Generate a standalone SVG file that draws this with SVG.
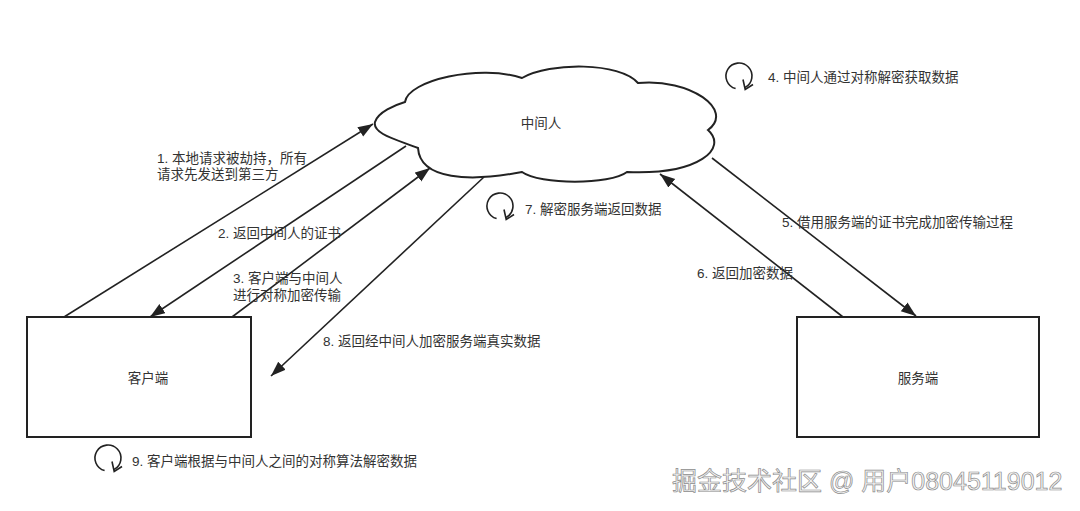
<svg xmlns="http://www.w3.org/2000/svg" width="1080" height="511" viewBox="0 0 1080 511">
<defs>
<style>
.ln{stroke:#222;stroke-width:1.6;fill:none}
.box{stroke:#222;stroke-width:2;fill:#fff}
.t{font-family:"Liberation Sans","Noto Sans CJK SC",sans-serif;font-size:13.5px;fill:#333}
.c{text-anchor:middle}
.loop{stroke:#222;stroke-width:1.6;fill:none}
.wm{font-family:"Liberation Sans","Noto Sans CJK SC",sans-serif;font-size:25px;fill:#f4f4f4;stroke:#8c8c8c;stroke-width:0.7}
</style>
<marker id="ah" markerWidth="16" markerHeight="12" refX="15" refY="5.5" orient="auto" markerUnits="userSpaceOnUse">
<path d="M0,0 L15,5.5 L0,11 z" fill="#222"/>
</marker>
<g id="lp">
<path class="loop" d="M-3.4,12.6 A13,13 0 1 1 6.1,11.5"/>
<path class="loop" d="M4,3.5 L6.2,13.5 L14,8.5"/>
</g>
</defs>
<rect width="1080" height="511" fill="#fff"/>
<g id="connectors">
<line class="ln" x1="64" y1="317" x2="373" y2="124" marker-end="url(#ah)"/>
<line class="ln" x1="406" y1="146" x2="150" y2="317" marker-end="url(#ah)"/>
<line class="ln" x1="232" y1="317" x2="430" y2="168" marker-end="url(#ah)"/>
<line class="ln" x1="484" y1="177" x2="271" y2="376" marker-end="url(#ah)"/>
<line class="ln" x1="712" y1="158" x2="916" y2="316" marker-end="url(#ah)"/>
<line class="ln" x1="843" y1="317" x2="660" y2="174" marker-end="url(#ah)"/>
</g>
<g id="cloud">
<path d="M405,102 C408,80 480,64 522,78 C550,62 620,62 638,83 C690,78 735,110 708,130 C728,148 700,175 627,172 C610,185 540,185 522,172 C470,182 420,180 418,148 C398,140 372,134 375,122 C378,112 395,105 405,102 Z" stroke="#222" stroke-width="2" fill="#fff"/>
<text class="t c" x="541" y="128">中间人</text>
</g>
<g id="client">
<rect class="box" x="27" y="317" width="224" height="120"/>
<text class="t c" x="148" y="383">客户端</text>
</g>
<g id="server">
<rect class="box" x="797" y="317" width="242" height="120"/>
<text class="t c" x="918" y="383">服务端</text>
</g>
<g id="labels">
<text class="t" x="157" y="163">1. 本地请求被劫持，所有</text>
<text class="t" x="157" y="179">请求先发送到第三方</text>
<text class="t" x="218" y="238">2. 返回中间人的证书</text>
<text class="t" x="233" y="283">3. 客户端与中间人</text>
<text class="t" x="233" y="300">进行对称加密传输</text>
<text class="t" x="323" y="346">8. 返回经中间人加密服务端真实数据</text>
<text class="t" x="782" y="227">5. 借用服务端的证书完成加密传输过程</text>
<text class="t" x="697" y="278">6. 返回加密数据</text>
</g>
<g id="step4">
<use href="#lp" x="739" y="76"/>
<text class="t" x="768" y="82">4. 中间人通过对称解密获取数据</text>
</g>
<g id="step7">
<use href="#lp" x="500" y="206"/>
<text class="t" x="525" y="214">7. 解密服务端返回数据</text>
</g>
<g id="step9">
<use href="#lp" x="108" y="458"/>
<text class="t" x="132" y="466">9. 客户端根据与中间人之间的对称算法解密数据</text>
</g>
<text class="wm" x="672" y="490">掘金技术社区 @ 用户08045119012</text>
</svg>
